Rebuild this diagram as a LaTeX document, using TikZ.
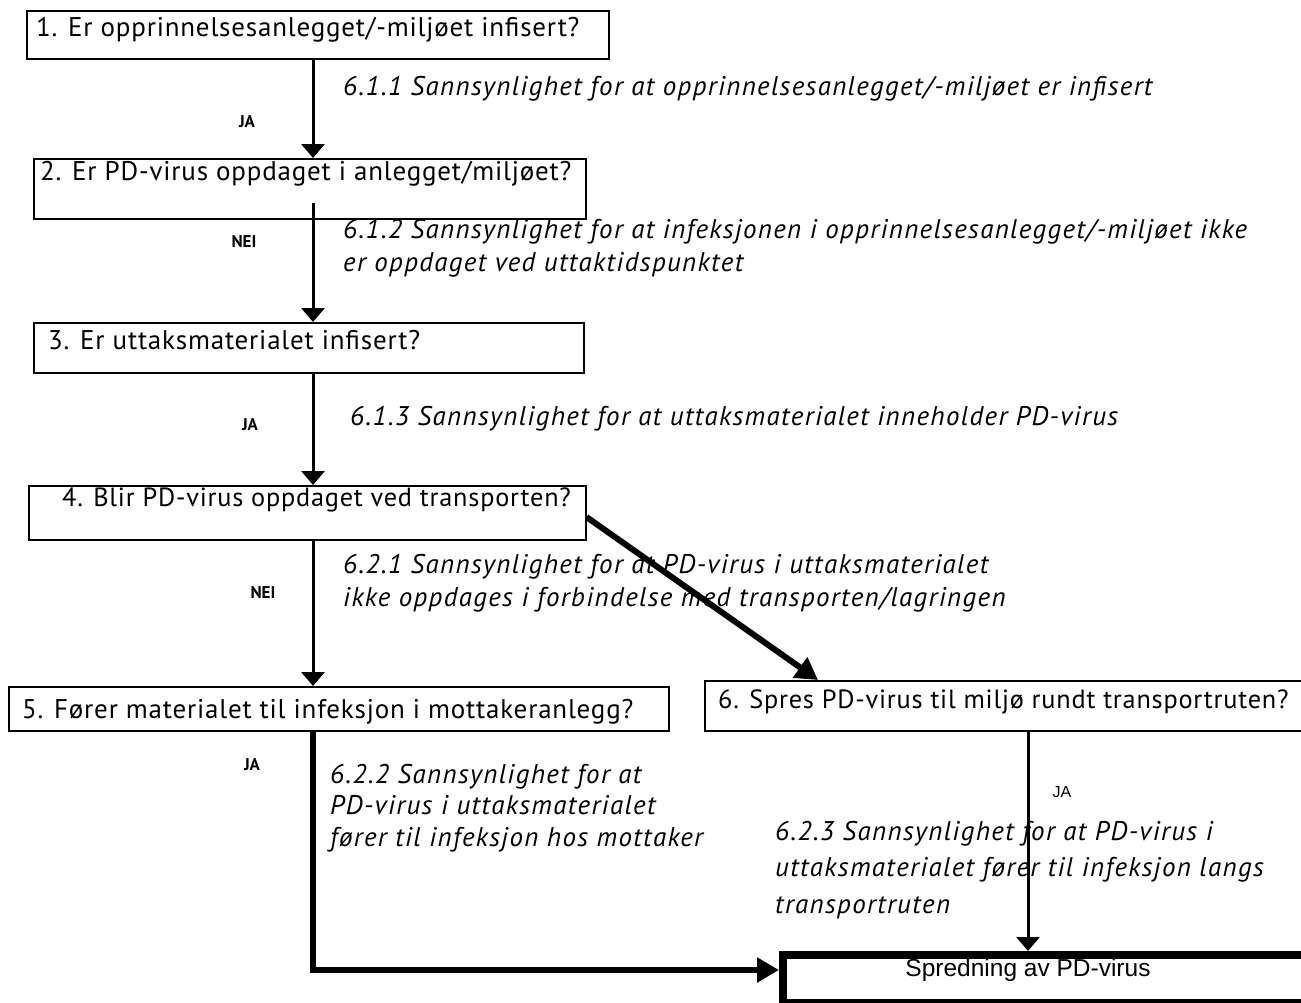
\documentclass[tikz,border=0pt]{standalone}
\usepackage{fontspec}
\setmainfont{PT Sans}
\newfontfamily\boxfont[LetterSpace=3]{PT Sans}
\newfontfamily\annfont[LetterSpace=5,UprightFont=*-Italic]{PT Sans}
\newfontfamily\arialfont{Liberation Sans}
\usetikzlibrary{arrows.meta}
\begin{document}
\begin{tikzpicture}[x=1pt,y=-1pt,
  qbox/.style={draw,line width=1.5pt,inner sep=0pt,anchor=north west},
  qtext/.style={anchor=west,inner sep=0pt,font=\boxfont\fontsize{27}{30}\selectfont},
  qtextsm/.style={qtext,font=\boxfont\fontsize{26.3}{30}\selectfont},
  ann/.style={anchor=north west,inner sep=0pt,align=left,font=\annfont\fontsize{27}{33}\selectfont},
  yn/.style={inner sep=0pt,font=\bfseries\fontsize{17}{19}\selectfont},
  thin/.style={line width=3pt,-{Triangle[width=23pt,length=14pt]}},
  thick/.style={line width=6pt,-{Triangle[width=24pt,length=22pt]}}
]
\clip (0,0) rectangle (1301,1002);
\fill[white] (0,0) rectangle (1301,1002);
% boxes
\node[qbox,minimum width=582pt,minimum height=48pt] (b1) at (26,10) {};
\node[qbox,minimum width=552pt,minimum height=60pt] (b2) at (33,158) {};
\node[qbox,minimum width=550pt,minimum height=50pt] (b3) at (33,322) {};
\node[qbox,minimum width=557pt,minimum height=54pt] (b4) at (28,485) {};
\node[qbox,minimum width=660pt,minimum height=44pt] (b5) at (8,686) {};
\node[qbox,minimum width=620pt,minimum height=50pt] (b6) at (704,680) {};
\node[qbox,line width=8pt,minimum width=540pt,minimum height=48pt] (end) at (779,951) {};
% box texts
\node[qtext] (b1t) at (36,30) {1. Er opprinnelsesanlegget/-miljøet infisert?};
\node[qtext] (b2t) at (40,174) {2. Er PD-virus oppdaget i anlegget/miljøet?};
\node[qtext] (b3t) at (48,340) {3. Er uttaksmaterialet infisert?};
\node[qtextsm] (b4t) at (62,500) {4. Blir PD-virus oppdaget ved transporten?};
\node[qtext] (b5t) at (22,712) {5. Fører materialet til infeksjon i mottakeranlegg?};
\node[qtextsm] (b6t) at (718,702) {6. Spres PD-virus til miljø rundt transportruten?};
\node[inner sep=0pt,font=\arialfont\fontsize{24.5}{28}\selectfont] (endt) at (1028,970) {Spredning av PD-virus};
% annotations
\node[ann] (t1) at (343,76) {6.1.1 Sannsynlighet for at opprinnelsesanlegget/-miljøet er infisert};
\node[ann] (t2) at (343,219) {6.1.2 Sannsynlighet for at infeksjonen i opprinnelsesanlegget/-miljøet ikke\\er oppdaget ved uttaktidspunktet};
\node[ann] (t3) at (350,406) {6.1.3 Sannsynlighet for at uttaksmaterialet inneholder PD-virus};
\node[ann] (t4) at (343,554) {6.2.1 Sannsynlighet for at PD-virus i uttaksmaterialet\\ikke oppdages i forbindelse med transporten/lagringen};
\node[ann,font=\annfont\fontsize{27}{31.5}\selectfont] (t5) at (330,764) {6.2.2 Sannsynlighet for at\\PD-virus i uttaksmaterialet\\fører til infeksjon hos mottaker};
\node[ann,font=\annfont\fontsize{27}{36.5}\selectfont] (t6) at (775,821) {6.2.3 Sannsynlighet for at PD-virus i\\uttaksmaterialet fører til infeksjon langs\\transportruten};
% yes/no labels
\node[yn] (ja1) at (247,122) {JA};
\node[yn] (nei1) at (244,242) {NEI};
\node[yn] (ja2) at (250,425) {JA};
\node[yn] (nei2) at (263,593) {NEI};
\node[yn] (ja3) at (252,765) {JA};
\node[inner sep=0pt,font=\arialfont\fontsize{16}{18}\selectfont] (ja4) at (1062,792) {JA};
% connectors
\coordinate (s2) at (313,203);
\coordinate (bend) at (313,970);
\draw[thin] (b1.south -| s2) -- (b2.north -| s2);
\draw[thin] (s2) -- (b3.north -| s2);
\draw[thin] (b3.south -| s2) -- (b4.north -| s2);
\draw[thin] (b4.south -| s2) -- (b5.north -| s2);
\draw[thick] (b4.north east |- 0,517) -- (818,680);
\draw[thick] (b5.south -| bend) -- (bend) -- (end.west |- bend);
\draw[thin] (b6.south -| 1028,0) -- (end.north -| 1028,0);
\end{tikzpicture}
\end{document}
